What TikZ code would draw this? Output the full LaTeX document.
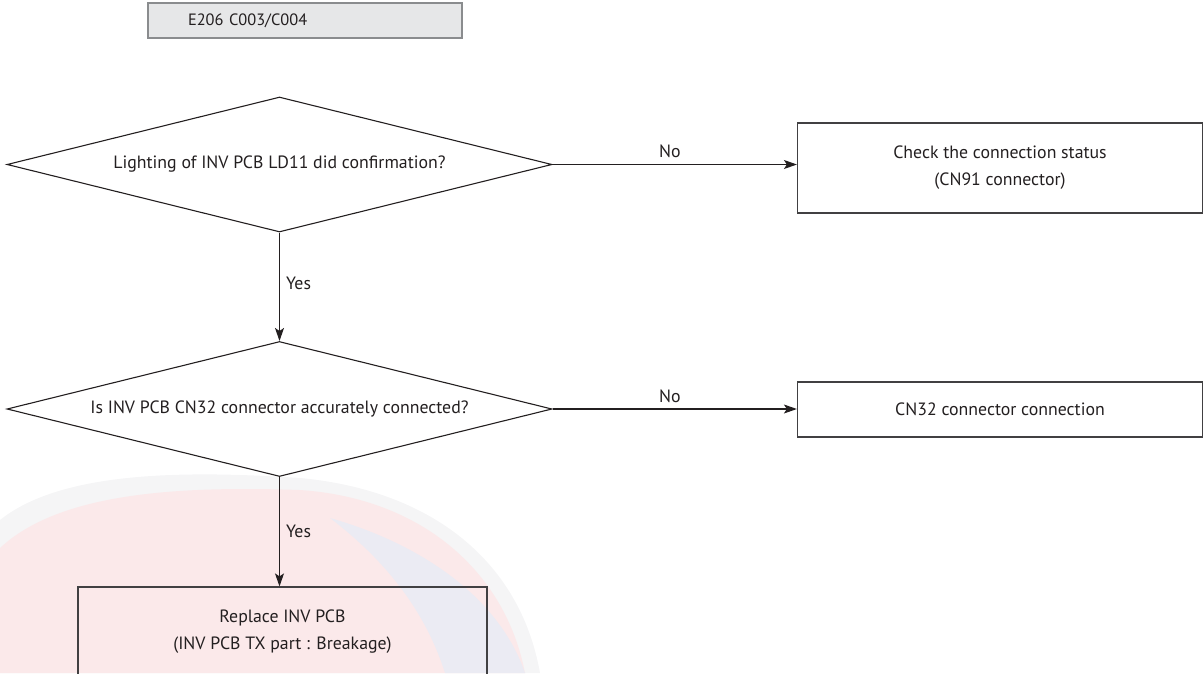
\documentclass[tikz,border=0pt]{standalone}
\usepackage{fontspec}
\setmainfont{PT Sans}
\usetikzlibrary{shapes.geometric,arrows.meta}
\definecolor{ink}{HTML}{231F20}
\definecolor{titlefill}{HTML}{E6E7E8}
\definecolor{titleline}{HTML}{8A8C8E}
\definecolor{boxline}{HTML}{414042}
\definecolor{wmgrey}{HTML}{F5F5F6}
\definecolor{wmpink}{HTML}{FBE9EA}
\definecolor{wmblue}{HTML}{EBEBF3}
\tikzset{
  every node/.style={font=\fontsize{17.8}{27}\selectfont, text=ink},
  decision/.style={diamond, draw=ink, line width=1.1pt, inner sep=0pt,
    minimum width=545pt, minimum height=135pt, aspect=4},
  actbox/.style={rectangle, draw=boxline, line width=1.2pt, align=center, inner sep=0pt},
  titlebox/.style={rectangle, draw=titleline, fill=titlefill, line width=2pt,
    minimum height=35pt, text width=234pt, inner xsep=40pt, align=left,
    font=\fontsize{16.4}{20}\selectfont},
  flow/.style={draw=ink, line width=1.1pt, -{Stealth[length=13pt,width=9pt,inset=3pt]}},
  lbl/.style={font=\fontsize{17.8}{20}\selectfont, inner sep=6pt}
}
\begin{document}
\begin{tikzpicture}[x=1pt,y=-1pt]
\useasboundingbox (0,0) rectangle (1203,673);
\clip (0,0) rectangle (1203,673);
% faint background watermark
\begin{scope}
  \fill[wmgrey] (0,520) .. controls (60,472) and (180,470) .. (300,478)
     .. controls (430,490) and (520,560) .. (540,673) -- (0,673) -- cycle;
  \fill[wmpink] (0,548) .. controls (60,492) and (180,486) .. (300,490)
     .. controls (420,498) and (505,570) .. (525,673) -- (0,673) -- cycle;
  \fill[wmblue] (330,518) .. controls (425,545) and (500,600) .. (525,673)
     -- (445,673) .. controls (425,610) and (385,560) .. (330,518) -- cycle;
\end{scope}

\node[titlebox] (title) at (305,20.5) {E206 C003/C004};

\node[decision] (d1) at (279.5,164.5) {Lighting of INV PCB LD11 did confirmation?};
\node[decision] (d2) at (279.5,409) {Is INV PCB CN32 connector accurately connected?};

\node[actbox, minimum width=405pt, minimum height=90pt] (b1) at (1000,168)
  {Check the connection status\\(CN91 connector)};
\node[actbox, minimum width=405pt, minimum height=55pt] (b2) at (1000,409.5)
  {CN32 connector connection};
\node[actbox, minimum width=409pt, minimum height=89pt] (b3) at (282.5,631.5)
  {Replace INV PCB\\(INV PCB TX part : Breakage)};

\draw[flow] (d1.east) -- node[lbl, above, pos=0.48] {No} (d1.east -| b1.west);
\draw[flow] (d2.east) -- node[lbl, above, pos=0.48] {No} (d2.east -| b2.west);
\draw[flow] (d1.south) -- node[lbl, right, pos=0.47] {Yes} (d2.north);
\draw[flow] (d2.south) -- node[lbl, right, pos=0.5] {Yes} (d2.south |- b3.north);
\end{tikzpicture}
\end{document}
